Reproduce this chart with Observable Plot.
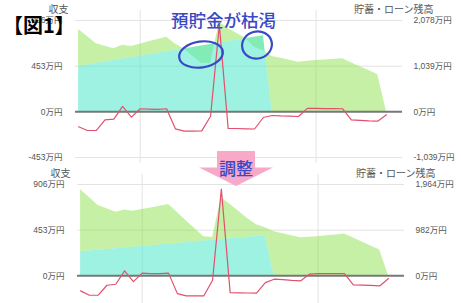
<!DOCTYPE html>
<html><head><meta charset="utf-8">
<script src="https://cdn.jsdelivr.net/npm/d3@7"></script>
<script src="https://cdn.jsdelivr.net/npm/@observablehq/plot@0.6"></script>
<style>
html,body{margin:0;padding:0;background:#fff;}
#wrap{position:relative;width:461px;height:303px;overflow:hidden;background:#fff;}
.chart{position:absolute;}
#overlay{position:absolute;left:0;top:0;}
</style></head><body><div id="wrap"></div>
<script>
// x categories (years from start of plan, unlabeled)
const idx = d3.range(36);
const xGrid = [7, 27];
const leftTicksTop = [906, 453, 0, -453];
const rightTicksTop = [2078, 1039, 0, -1039];
const leftTicksBottom = [906, 453, 0];
const rightTicksBottom = [1964, 982, 0];

// ---- 図1 (before) ----
const flowTop = [-147,-185,-185,-79,-72,54,-52,31,27,24,31,-168,-191,-191,-188,-43,860,-165,-165,-168,-170,-56,-36,-40,-42,-46,34,34,32,32,31,-79,-85,-90,-92,-29];
const loanTop = [1035,1068,1101,1134,1167,1200,1234,1267,1300,1333,1366,1399,1432,1465,1498,1531,1565,1598,1631,1664,1697,1730,0,0,0,0,0,0,0,0,0,0,0,0,0,0];
const totalTop = [1873,1714,1548,1491,1434,1516,1487,1539,1594,1646,1698,1544,1430,1259,1100,1100,2040,1896,1782,1669,1464,1396,1260,1221,1175,1130,1150,1168,1182,1194,1207,1118,1028,939,850,0];

// ---- 調整 (after) ----
const flowBottom = [-149,-192,-192,-93,-83,50,-57,27,23,23,27,-176,-199,-199,-199,-43,860,-166,-168,-170,-172,-67,-33,-38,-45,-50,17,23,23,23,23,-90,-92,-95,-100,-27];
const loanBottom = [518,534,551,567,584,600,616,633,649,666,682,698,715,731,748,764,780,797,813,830,846,863,0,0,0,0,0,0,0,0,0,0,0,0,0,0];
const totalBottom = [1850,1683,1511,1440,1366,1418,1388,1425,1461,1496,1532,1360,1187,1014,842,827,1680,1532,1381,1230,1100,1036,950,906,863,820,831,842,863,880,900,814,727,641,555,0];

const fmt = v => d3.format(",")(v).replace("\u2212", "-") + "万円";

function makeChart(flow, base, total, lTicks, rTicks) {
  const k = lTicks[0] / rTicks[0];
  const data = idx.map(i => ({i, f: flow[i], c: base[i] * k, t: total[i] * k}));
  return Plot.plot({
    width: 461, height: 170,
    marginLeft: 75, marginRight: 59, marginTop: 10, marginBottom: 7,
    style: {fontFamily: "'Liberation Sans','Noto Sans CJK JP',sans-serif", background: "transparent", color: "#555"},
    x: {domain: [-0.352, 36.82], axis: null},
    y: {domain: [-512, 1005]},
    marks: [
      Plot.ruleX(xGrid, {stroke: "#e3e3e3"}),
      Plot.ruleY(lTicks.filter(t => t !== 0), {stroke: "#e3e3e3"}),
      Plot.areaY(data, {x: "i", y1: "c", y2: "t", fill: "#8ae048", fillOpacity: 0.48}),
      Plot.areaY(data, {x: "i", y1: 0, y2: "c", fill: "#3ee6c6", fillOpacity: 0.5}),
      Plot.ruleY([0], {stroke: "#777", strokeWidth: 2}),
      Plot.line(data, {x: "i", y: "f", stroke: "#e2506c", strokeWidth: 1.2}),
      Plot.axisY(lTicks, {anchor: "left", tickSize: 0, tickPadding: 13, tickFormat: fmt, fontSize: 8.5, label: null}),
      Plot.axisY(rTicks.map(t => t * k), {anchor: "right", tickSize: 0, tickPadding: 11, tickFormat: d => fmt(Math.round(d / k)), fontSize: 8.5, label: null}),
      Plot.text(["収支"], {frameAnchor: "top-left", textAnchor: "end", lineAnchor: "middle", dx: -7, dy: -0.5, fontSize: 10}),
      Plot.text(["貯蓄・ローン残高"], {frameAnchor: "top-right", textAnchor: "end", lineAnchor: "middle", dx: 31, dy: -0.5, fontSize: 10})
    ]
  });
}

const wrap = document.getElementById("wrap");
const c1 = makeChart(flowTop, loanTop, totalTop, leftTicksTop, rightTicksTop);
c1.classList.add("chart"); c1.style.left = "0px"; c1.style.top = "0px";
wrap.appendChild(c1);
const c2 = makeChart(flowBottom, loanBottom, totalBottom, leftTicksBottom, rightTicksBottom);
c2.classList.add("chart"); c2.style.left = "2px"; c2.style.top = "164px";
wrap.appendChild(c2);

// ---- annotations ----
const blue = "#3a48c6";
const svg = d3.select(wrap).append("svg").attr("id", "overlay").attr("width", 461).attr("height", 303);
svg.append("polygon")
  .attr("points", "217,151 255,151 255,167.5 273,167.5 236,186 199,167.5 217,167.5")
  .attr("fill", "#f8a9c8");
svg.append("text").text("調整")
  .attr("x", 236).attr("y", 175).attr("text-anchor", "middle")
  .attr("font-family", "'Noto Sans CJK JP'").attr("font-size", 17).attr("font-weight", 500).attr("fill", blue);
svg.append("ellipse").attr("cx", 201).attr("cy", 54.5).attr("rx", 22).attr("ry", 13)
  .attr("transform", "rotate(-8 201 54.5)").attr("fill", "none").attr("stroke", blue).attr("stroke-width", 2.2);
svg.append("ellipse").attr("cx", 257).attr("cy", 45).attr("rx", 15).attr("ry", 13.5)
  .attr("transform", "rotate(-15 257 45)").attr("fill", "none").attr("stroke", blue).attr("stroke-width", 2.2);
svg.append("text").text("預貯金が枯渇")
  .attr("x", 171).attr("y", 27.2)
  .attr("font-family", "'Noto Sans CJK JP'").attr("font-size", 17.5).attr("font-weight", 500).attr("fill", blue);
svg.append("text").text("【図1】")
  .attr("x", 3).attr("y", 32.5)
  .attr("font-family", "'Noto Sans CJK JP'").attr("font-size", 20).attr("font-weight", 700).attr("fill", "#000");
</script></body></html>
